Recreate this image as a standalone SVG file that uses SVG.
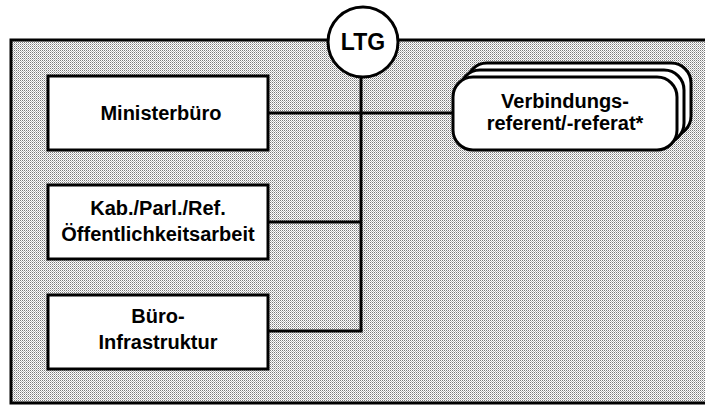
<svg xmlns="http://www.w3.org/2000/svg" width="705" height="407" viewBox="0 0 705 407">
  <defs>
    <pattern id="dots" width="2" height="2" patternUnits="userSpaceOnUse">
      <rect width="2" height="2" fill="#ffffff"/>
      <rect x="0" y="0" width="1" height="1" fill="#7a7a7a"/>
      <rect x="1" y="1" width="1" height="1" fill="#b8b8b8"/>
    </pattern>
  </defs>
  <style>
    .box { fill: #ffffff; stroke: #000000; stroke-width: 3; }
    .line { fill: none; stroke: #000000; stroke-width: 3; }
    .lbl { font-family: "Liberation Sans", Arial, Helvetica, sans-serif; font-weight: bold; font-size: 20px; fill: #000000; text-anchor: middle; }
  </style>
  <rect width="705" height="407" fill="#ffffff"/>
  <g id="frame">
    <rect x="11" y="40" width="705" height="363" fill="url(#dots)" stroke="#000000" stroke-width="3"/>
  </g>
  <g id="connectors">
    <line class="line" x1="361" y1="77" x2="361" y2="331"/>
    <line class="line" x1="268" y1="113" x2="453" y2="113"/>
    <line class="line" x1="268" y1="222" x2="361" y2="222"/>
    <line class="line" x1="268" y1="331" x2="362.5" y2="331"/>
  </g>
  <g id="ltg">
    <circle class="box" cx="363" cy="42" r="35"/>
    <text class="lbl" x="363" y="50" style="font-size:23px">LTG</text>
  </g>
  <g id="ministerbuero">
    <rect class="box" x="48" y="76" width="220" height="74"/>
    <text class="lbl" x="161" y="120">Ministerbüro</text>
  </g>
  <g id="kabparl">
    <rect class="box" x="48" y="185" width="220" height="74"/>
    <text class="lbl" x="158" y="215">Kab./Parl./Ref.</text>
    <text class="lbl" x="158" y="241">Öffentlichkeitsarbeit</text>
  </g>
  <g id="bueroinfra">
    <rect class="box" x="48" y="295" width="220" height="74"/>
    <text class="lbl" x="158" y="323">Büro-</text>
    <text class="lbl" x="158" y="349">Infrastruktur</text>
  </g>
  <g id="verbindung">
    <rect class="box" x="467" y="63" width="224" height="73" rx="20" ry="20"/>
    <rect class="box" x="460" y="70" width="224" height="73" rx="20" ry="20"/>
    <rect class="box" x="453" y="77" width="224" height="73" rx="20" ry="20"/>
    <text class="lbl" x="565" y="108">Verbindungs-</text>
    <text class="lbl" x="565" y="130">referent/-referat*</text>
  </g>
</svg>
